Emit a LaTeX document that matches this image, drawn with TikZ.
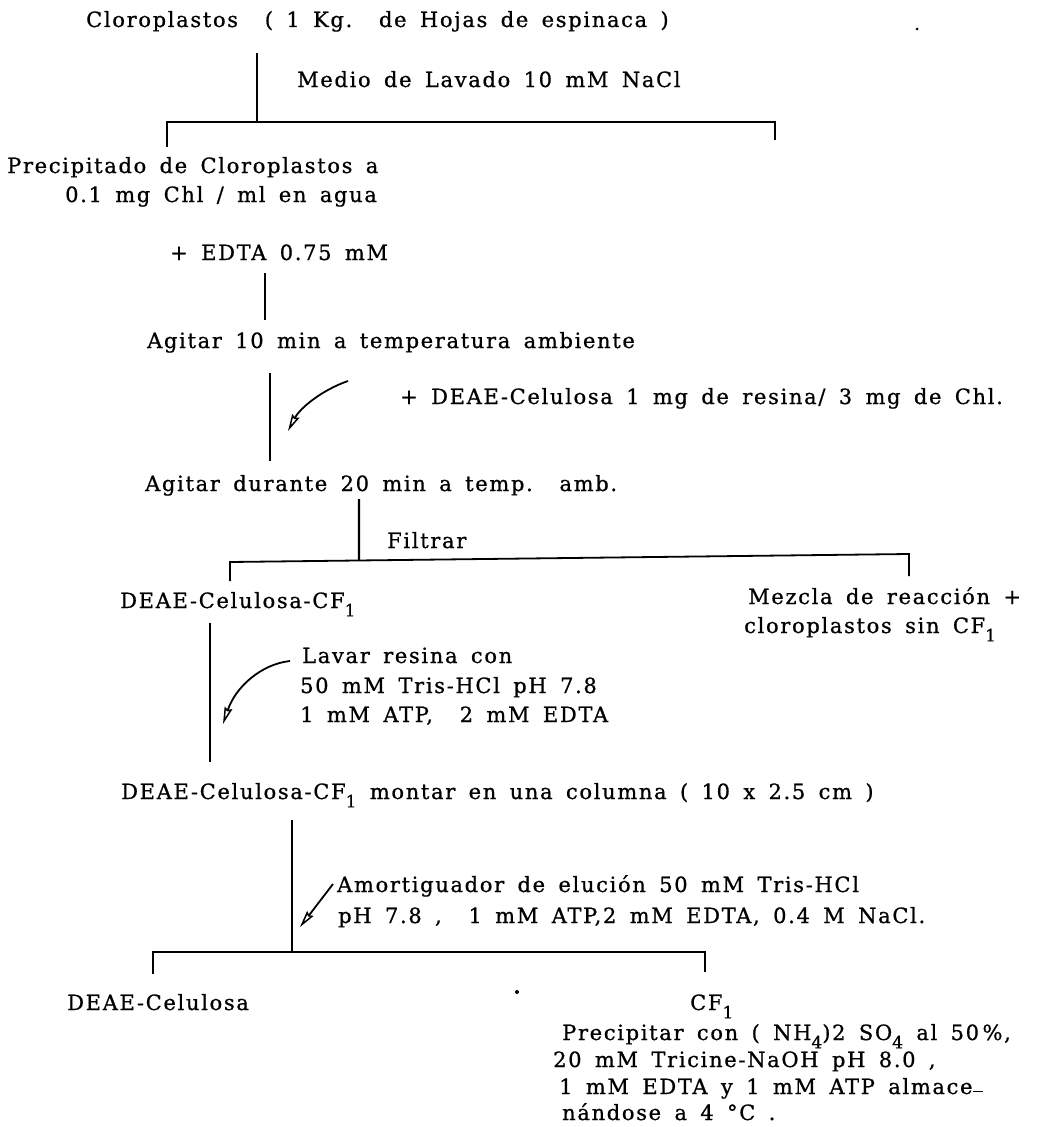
\documentclass[tikz,border=0pt]{standalone}
\usepackage{fontspec}
\setmainfont{DejaVu Serif}[LetterSpace=8, WordSpace=1.6, FakeBold=0.8]
\usetikzlibrary{arrows.meta,calc}
\newcommand\lsub[1]{\raisebox{-0.4em}{\fontsize{17}{17}\selectfont #1}}
\begin{document}
\begin{tikzpicture}[x=1pt,y=-1pt,
  txt/.style={anchor=base west, inner sep=0pt, font=\fontsize{21}{29}\selectfont},
  flow/.style={line width=2.2pt},
  brk/.style={line width=1.8pt},
  addarrow/.style={line width=1.8pt, -{Stealth[open, length=17pt, width=8pt, inset=2pt, line width=1.5pt]}},
  speck/.style={fill=black}]
\fill[white] (0,0) rectangle (1041,1127);
\useasboundingbox (0,0) rectangle (1041,1127);

% texts
\node[txt] (cloro) at (86,27) {Cloroplastos\ \ ( 1 Kg.\ \ de Hojas de espinaca )};
\node[txt] (medio) at (297,87) {Medio de Lavado 10 mM NaCl};
\node[txt] (precA) at (7,173) {Precipitado de Cloroplastos a};
\node[txt] (precB) at (65,202) {0.1 mg Chl\ / ml en agua};
\node[txt] (edta) at (170,260) {+ EDTA 0.75 mM};
\node[txt] (agit1) at (147,348) {Agitar 10 min a temperatura ambiente};
\node[txt] (deae) at (400,404) {+ DEAE-Celulosa 1 mg de\ resina/ 3 mg de Chl.};
\node[txt] (agit2) at (145,491) {Agitar durante 20 min a temp.\ \ amb.};
\node[txt] (filt) at (387,548) {Filtrar};
\node[txt] (dcf) at (120,608) {DEAE-Celulosa-CF\lsub{1}};
\node[txt] (mezA) at (748,604) {Mezcla de reacción +};
\node[txt] (mezB) at (744,633) {cloroplastos sin CF\lsub{1}};
\node[txt] (lavA) at (302,663) {Lavar resina con};
\node[txt] (lavB) at (300,693) {50 mM Tris-HCl\ pH 7.8};
\node[txt] (lavC) at (300,722) {1 mM ATP,\ \ 2 mM\ EDTA};
\node[txt] (mont) at (121,799) {DEAE-Celulosa-CF\lsub{1} montar en una columna ( 10 x 2.5 cm )};
\node[txt] (amoA) at (337,892) {Amortiguador de elución 50 mM Tris-HCl};
\node[txt] (amoB) at (338,923) {pH 7.8 ,\ \ 1 mM ATP,2 mM EDTA, 0.4 M NaCl.};
\node[txt] (dc) at (67,1010) {DEAE-Celulosa};
\node[txt] (cf) at (690,1010) {CF\lsub{1}};
\node[txt] (pA) at (562,1040) {Precipitar con ( NH\lsub{4})2 SO\lsub{4} al 50\,\%,};
\node[txt] (pB) at (553,1067) {20 mM Tricine-NaOH pH 8.0 ,};
\node[txt] (pC) at (559,1094) {1 mM EDTA y 1 mM ATP almace\rule[2pt]{10pt}{1.3pt}};
\node[txt] (pD) at (562,1120) {nándose a 4 °C .};

% connector end points
\coordinate (v1a) at (257,53);  \coordinate (v1b) at (257,122);
\coordinate (b1l) at (167,147); \coordinate (b1r) at (775,140);
\coordinate (v2a) at (265,273); \coordinate (v2b) at (265,320);
\coordinate (v3a) at (270,373); \coordinate (v3b) at (270,461);
\coordinate (a1s) at (348,381); \coordinate (a1e) at (288,431);
\coordinate (b2lt) at (230,581); \coordinate (b2lc) at (230,562);
\coordinate (b2rc) at (909,554); \coordinate (b2rt) at (909,576);
\coordinate (v4a) at (359,499); \coordinate (v4b) at ($(b2lc)!0.19!(b2rc)$);
\coordinate (v5a) at (210,623); \coordinate (v5b) at (210,762);
\coordinate (a2s) at (290,661); \coordinate (a2e) at (223,724);
\coordinate (v6a) at (292,820); \coordinate (v6b) at (292,952);
\coordinate (a3s) at (333,884); \coordinate (a3e) at (300,927);
\coordinate (b3l) at (153,974); \coordinate (b3r) at (705,972);

% connectors
\draw[flow] (v1a) -- (v1b);
\draw[brk] (b1l) -- (b1l |- v1b) -- (b1r |- v1b) -- (b1r);
\draw[flow] (v2a) -- (v2b);
\draw[flow] (v3a) -- (v3b);
\draw[addarrow] (a1s) .. controls (322,390) and (300,408) .. (a1e);
\draw[flow] (v4a) -- (v4b);
\draw[brk] (b2lt) -- (b2lc) -- (b2rc) -- (b2rt);
\draw[flow] (v5a) -- (v5b);
\draw[addarrow] (a2s) .. controls (262,664) and (236,686) .. (a2e);
\draw[flow] (v6a) -- (v6b);
\draw[addarrow] (a3s) -- (a3e);
\draw[brk] (b3l) -- (b3l |- v6b) -- (b3r |- v6b) -- (b3r);

% specks
\fill[speck] (917,29) circle (1.5);
\fill[speck] (517,992) circle (2);
\end{tikzpicture}
\end{document}
